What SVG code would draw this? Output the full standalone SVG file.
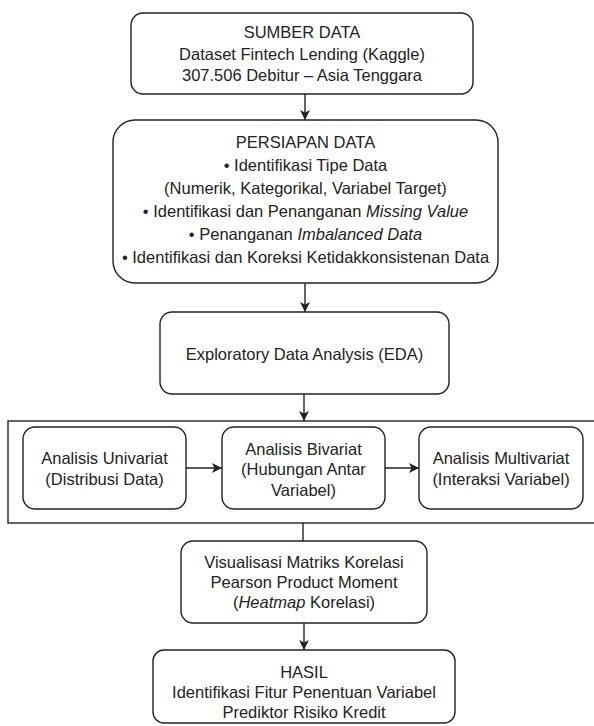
<svg xmlns="http://www.w3.org/2000/svg" width="594" height="726" viewBox="0 0 594 726">
<style>
.b{fill:#fff;stroke:#222;stroke-width:1.4}
.c{fill:none;stroke:#222;stroke-width:1.4}
text{font-family:"Liberation Sans",Arial,sans-serif;font-size:16.5px;fill:#222;text-anchor:middle}
.i{font-style:italic}
</style>
<defs>
<marker id="ah" viewBox="0 0 10 10" refX="10" refY="5" markerWidth="10" markerHeight="10" markerUnits="userSpaceOnUse" orient="auto">
<path d="M0,0 L10,5 L0,10 L2.5,5 Z" fill="#222"/>
</marker>
</defs>
<rect width="594" height="726" fill="#fff"/>
<g id="container">
<rect x="8" y="421" width="592" height="102" class="c"/>
</g>
<g id="sumber">
<rect x="131" y="13" width="342" height="81" rx="12" class="b"/>
<text x="302" y="37.5">SUMBER DATA</text>
<text x="302" y="59.5">Dataset Fintech Lending (Kaggle)</text>
<text x="302" y="80.5">307.506 Debitur – Asia Tenggara</text>
</g>
<g id="persiapan">
<rect x="113" y="120" width="385" height="163" rx="22" class="b"/>
<text x="305.5" y="148">PERSIAPAN DATA</text>
<text x="305.5" y="171">• Identifikasi Tipe Data</text>
<text x="305.5" y="194">(Numerik, Kategorikal, Variabel Target)</text>
<text x="305.5" y="217">• Identifikasi dan Penanganan <tspan class="i">Missing Value</tspan></text>
<text x="305.5" y="240">• Penanganan <tspan class="i">Imbalanced Data</tspan></text>
<text x="305.5" y="263">• Identifikasi dan Koreksi Ketidakkonsistenan Data</text>
</g>
<g id="eda">
<rect x="160" y="312" width="289" height="82" rx="12" class="b"/>
<text x="304.5" y="360">Exploratory Data Analysis (EDA)</text>
</g>
<g id="univariat">
<rect x="23" y="427" width="163" height="82" rx="12" class="b"/>
<text x="104.5" y="463.5">Analisis Univariat</text>
<text x="104.5" y="484.5">(Distribusi Data)</text>
</g>
<g id="bivariat">
<rect x="222" y="427" width="163" height="82" rx="12" class="b"/>
<text x="303.5" y="454.5">Analisis Bivariat</text>
<text x="303.5" y="475">(Hubungan Antar</text>
<text x="303.5" y="495.5">Variabel)</text>
</g>
<g id="multivariat">
<rect x="419" y="427" width="164" height="82" rx="12" class="b"/>
<text x="501" y="463.5">Analisis Multivariat</text>
<text x="501" y="484.5">(Interaksi Variabel)</text>
</g>
<g id="visualisasi">
<rect x="181" y="541" width="246" height="82" rx="12" class="b"/>
<text x="304" y="567.5">Visualisasi Matriks Korelasi</text>
<text x="304" y="587.5">Pearson Product Moment</text>
<text x="304" y="607.5">(<tspan class="i">Heatmap</tspan> Korelasi)</text>
</g>
<g id="hasil">
<rect x="153" y="650" width="302" height="73" rx="11" class="b"/>
<text x="304" y="677.5">HASIL</text>
<text x="304" y="697.5">Identifikasi Fitur Penentuan Variabel</text>
<text x="304" y="717.5">Prediktor Risiko Kredit</text>
</g>
<g id="connectors">
<line x1="305" y1="94" x2="305" y2="120" class="c" marker-end="url(#ah)"/>
<line x1="305" y1="283" x2="305" y2="312" class="c" marker-end="url(#ah)"/>
<line x1="304" y1="394" x2="304" y2="421" class="c" marker-end="url(#ah)"/>
<line x1="186" y1="468" x2="222" y2="468" class="c" marker-end="url(#ah)"/>
<line x1="385" y1="468" x2="419" y2="468" class="c" marker-end="url(#ah)"/>
<line x1="303" y1="523" x2="303" y2="541" class="c"/>
<line x1="304" y1="623" x2="304" y2="650" class="c" marker-end="url(#ah)"/>
</g>
</svg>
